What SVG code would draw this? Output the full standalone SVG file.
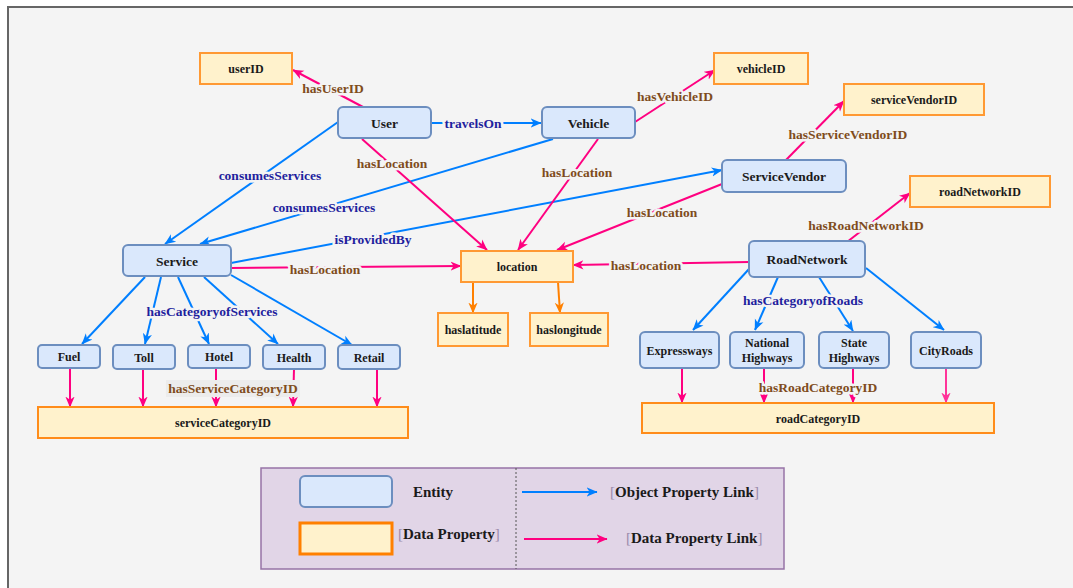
<svg xmlns="http://www.w3.org/2000/svg" width="1073" height="588" viewBox="0 0 1073 588">
<style>
.ent{fill:#dae8fc;stroke:#6c8ebf;stroke-width:2}
.dp{fill:#fff2cc;stroke:#ff9933;stroke-width:2}
.t{font-family:"Liberation Serif","Times New Roman",serif;font-weight:bold;fill:#1a1a1a;text-anchor:middle}
.t13{font-size:13.5px}
.t12{font-size:12px}
.ob{stroke:#007fff;stroke-width:2;fill:none;marker-end:url(#ab)}
.pk{stroke:#ff0080;stroke-width:2;fill:none;marker-end:url(#ap)}
.or{stroke:#ff8000;stroke-width:2;fill:none;marker-end:url(#ao)}
.lo,.lp{font-family:"Liberation Serif","Times New Roman",serif;font-weight:bold;font-size:13.5px;text-anchor:middle;paint-order:stroke;stroke:#f4f4f4;stroke-width:5px;stroke-linejoin:round}
.lo{fill:#1f1f9e}
.lp{fill:#7f4c1c}
.lg{font-family:"Liberation Serif","Times New Roman",serif;font-weight:bold;font-size:15px;fill:#1a1a1a}
.br{font-weight:normal;fill:#9a8aaa}
</style>
<defs>
<marker id="ab" viewBox="0 0 10 10" refX="9.5" refY="5" markerWidth="11" markerHeight="11" markerUnits="userSpaceOnUse" orient="auto"><path d="M0,0.8 L10,5 L0,9.2 L2.8,5 z" fill="#007fff"/></marker>
<marker id="ap" viewBox="0 0 10 10" refX="9.5" refY="5" markerWidth="11" markerHeight="11" markerUnits="userSpaceOnUse" orient="auto"><path d="M0,0.8 L10,5 L0,9.2 L2.8,5 z" fill="#ff0080"/></marker>
<marker id="ap2" viewBox="0 0 10 10" refX="9.5" refY="5" markerWidth="11" markerHeight="11" markerUnits="userSpaceOnUse" orient="auto"><path d="M0,0.8 L10,5 L0,9.2 L2.8,5 z" fill="#ff3399"/></marker>
<marker id="ao" viewBox="0 0 10 10" refX="9.5" refY="5" markerWidth="11" markerHeight="11" markerUnits="userSpaceOnUse" orient="auto"><path d="M0,0.8 L10,5 L0,9.2 L2.8,5 z" fill="#ff8000"/></marker>
</defs>
<rect width="1073" height="588" fill="#ffffff"/>
<rect x="8" y="7" width="1080" height="600" fill="#f4f4f4" stroke="#666666" stroke-width="2"/>

<g id="connectors">
<line class="ob" x1="431" y1="123" x2="541" y2="123"/>
<line class="ob" x1="338" y1="122" x2="165" y2="244"/>
<line class="ob" x1="553" y1="139" x2="200" y2="244"/>
<line class="ob" x1="231" y1="263" x2="722" y2="170"/>
<line class="ob" x1="145" y1="277" x2="82" y2="344"/>
<line class="ob" x1="161" y1="277" x2="145" y2="344"/>
<line class="ob" x1="178" y1="277" x2="209" y2="344"/>
<line class="ob" x1="204" y1="277" x2="278" y2="344"/>
<line class="ob" x1="231" y1="275" x2="352" y2="345"/>
<line class="ob" x1="749" y1="269" x2="693" y2="330"/>
<line class="ob" x1="778" y1="277" x2="755" y2="330"/>
<line class="ob" x1="819" y1="277" x2="853" y2="331"/>
<line class="ob" x1="866" y1="268" x2="944" y2="330"/>
<line class="pk" x1="363" y1="107" x2="293" y2="70"/>
<line class="pk" x1="362" y1="139" x2="487" y2="250"/>
<line class="pk" x1="598" y1="139" x2="518" y2="250"/>
<line class="pk" x1="722" y1="184" x2="557" y2="250"/>
<line class="pk" x1="231" y1="268" x2="461" y2="266"/>
<line class="pk" x1="749" y1="262" x2="573" y2="265"/>
<line class="pk" x1="635" y1="122" x2="715" y2="70"/>
<line class="pk" x1="785" y1="161" x2="844" y2="101"/>
<line class="pk" x1="847" y1="242" x2="910" y2="193"/>
<line class="pk" x1="70" y1="369" x2="70" y2="407"/>
<line class="pk" x1="143" y1="369" x2="143" y2="407"/>
<line class="pk" x1="216" y1="369" x2="216" y2="407"/>
<line class="pk" x1="294" y1="369" x2="293" y2="407"/>
<line class="pk" x1="377" y1="369" x2="377" y2="407"/>
<line class="pk" x1="682" y1="369" x2="682" y2="403"/>
<line class="pk" x1="764" y1="369" x2="764" y2="403"/>
<line class="pk" x1="853" y1="369" x2="853" y2="403"/>
<line x1="946" y1="369" x2="946" y2="403" stroke="#ff3399" stroke-width="2" marker-end="url(#ap2)"/>
<line class="or" x1="473" y1="282" x2="473" y2="313"/>
<line class="or" x1="558" y1="282" x2="560" y2="313"/>
<text class="lo" x="473" y="128">travelsOn</text>
<text class="lo" x="270" y="180">consumesServices</text>
<text class="lo" x="324" y="212">consumesServices</text>
<text class="lo" x="373" y="244">isProvidedBy</text>
<text class="lo" x="212" y="316">hasCategoryofServices</text>
<text class="lo" x="803" y="305">hasCategoryofRoads</text>
<text class="lp" x="333" y="93">hasUserID</text>
<text class="lp" x="392" y="168">hasLocation</text>
<text class="lp" x="577" y="177">hasLocation</text>
<text class="lp" x="662" y="217">hasLocation</text>
<text class="lp" x="325" y="274">hasLocation</text>
<text class="lp" x="646" y="270">hasLocation</text>
<text class="lp" x="675" y="101">hasVehicleID</text>
<text class="lp" x="848" y="139">hasServiceVendorID</text>
<text class="lp" x="866" y="230">hasRoadNetworkID</text>
<rect x="166" y="380" width="134" height="17" fill="#ececec"/>
<text class="lp" x="233" y="393" style="stroke:#ececec">hasServiceCategoryID</text>
<text class="lp" x="818" y="392">hasRoadCategoryID</text>
</g>

<g id="User"><rect class="ent" x="338" y="107" width="93" height="31" rx="5"/><text class="t t13" x="384.5" y="127.5">User</text></g>
<g id="Vehicle"><rect class="ent" x="542" y="107" width="93" height="31" rx="5"/><text class="t t13" x="588.5" y="127.5">Vehicle</text></g>
<g id="ServiceVendor"><rect class="ent" x="722" y="160" width="124" height="32" rx="5"/><text class="t t13" x="784" y="181">ServiceVendor</text></g>
<g id="Service"><rect class="ent" x="123" y="245" width="108" height="31" rx="5"/><text class="t t13" x="177" y="265.5">Service</text></g>
<g id="RoadNetwork"><rect class="ent" x="749" y="241" width="116" height="36" rx="5"/><text class="t t13" x="807" y="263.5">RoadNetwork</text></g>
<g id="Fuel"><rect class="ent" x="38" y="345" width="62" height="23" rx="4"/><text class="t t12" x="69" y="361">Fuel</text></g>
<g id="Toll"><rect class="ent" x="113" y="345" width="62" height="24" rx="4"/><text class="t t12" x="144" y="361.5">Toll</text></g>
<g id="Hotel"><rect class="ent" x="188" y="345" width="62" height="23" rx="4"/><text class="t t12" x="219" y="361">Hotel</text></g>
<g id="Health"><rect class="ent" x="263" y="345" width="62" height="24" rx="4"/><text class="t t12" x="294" y="361.5">Health</text></g>
<g id="Retail"><rect class="ent" x="338" y="345" width="62" height="24" rx="4"/><text class="t t12" x="369" y="361.5">Retail</text></g>
<g id="Expressways"><rect class="ent" x="640" y="332" width="79" height="36" rx="5"/><text class="t t12" x="679.5" y="355">Expressways</text></g>
<g id="NationalHighways"><rect class="ent" x="730" y="332" width="74" height="36" rx="5"/><text class="t t12" x="767" y="347">National</text><text class="t t12" x="767" y="362">Highways</text></g>
<g id="StateHighways"><rect class="ent" x="819" y="332" width="70" height="36" rx="5"/><text class="t t12" x="854" y="347">State</text><text class="t t12" x="854" y="362">Highways</text></g>
<g id="CityRoads"><rect class="ent" x="911" y="332" width="70" height="36" rx="5"/><text class="t t12" x="946" y="355">CityRoads</text></g>

<g id="userID"><rect class="dp" x="200" y="53" width="92" height="31"/><text class="t t12" x="246" y="73">userID</text></g>
<g id="vehicleID"><rect class="dp" x="714" y="53" width="94" height="31"/><text class="t t12" x="761" y="73">vehicleID</text></g>
<g id="serviceVendorID"><rect class="dp" x="844" y="84" width="140" height="31"/><text class="t t12" x="914" y="104">serviceVendorID</text></g>
<g id="roadNetworkID"><rect class="dp" x="910" y="176" width="140" height="31"/><text class="t t12" x="980" y="196">roadNetworkID</text></g>
<g id="location"><rect class="dp" x="461" y="251" width="112" height="31"/><text class="t t12" x="517" y="271">location</text></g>
<g id="haslatitude"><rect class="dp" x="438" y="313" width="70" height="33"/><text class="t t12" x="473" y="334">haslatitude</text></g>
<g id="haslongitude"><rect class="dp" x="530" y="313" width="78" height="33"/><text class="t t12" x="569" y="334">haslongitude</text></g>
<g id="serviceCategoryID"><rect class="dp" x="38" y="407" width="370" height="31" style="stroke:#ff8c1a"/><text class="t t12" x="223" y="427">serviceCategoryID</text></g>
<g id="roadCategoryID"><rect class="dp" x="642" y="403" width="352" height="30" style="stroke:#ff8c1a"/><text class="t t12" x="818" y="423">roadCategoryID</text></g>

<g id="legend">
<rect x="261" y="468" width="523" height="101" fill="#e1d5e7" stroke="#9673a6" stroke-width="1.5"/>
<line x1="516" y1="468" x2="516" y2="569" stroke="#555555" stroke-width="1" stroke-dasharray="2,2"/>
<rect class="ent" x="300" y="476" width="92" height="31" rx="5"/>
<text class="lg" x="413" y="497">Entity</text>
<rect x="300" y="523" width="92" height="31" fill="#fff2cc" stroke="#ff8000" stroke-width="3"/>
<text class="lg" x="398" y="539"><tspan class="br">[</tspan>Data Property<tspan class="br">]</tspan></text>
<line class="ob" x1="522" y1="492" x2="597" y2="492"/>
<text class="lg" x="610" y="497"><tspan class="br">[</tspan>Object Property Link<tspan class="br">]</tspan></text>
<line class="pk" x1="524" y1="539" x2="607" y2="539"/>
<text class="lg" x="626" y="543"><tspan class="br">[</tspan>Data Property Link<tspan class="br">]</tspan></text>
</g>
</svg>
